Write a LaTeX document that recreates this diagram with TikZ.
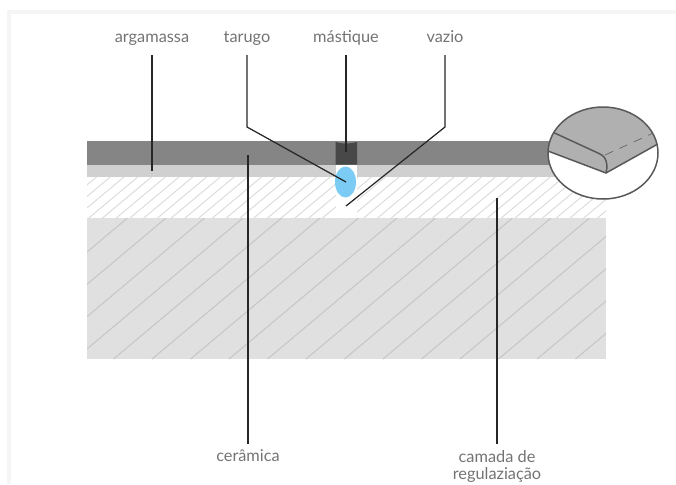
\documentclass[tikz,border=0pt]{standalone}
\usepackage{fontspec}
\setmainfont{Lato}
\usepackage{xcolor}
\usetikzlibrary{positioning}
\definecolor{ceramica}{HTML}{858585}
\definecolor{argamassa}{HTML}{D0D0D0}
\definecolor{base}{HTML}{E0E0E0}
\definecolor{mastique}{HTML}{484848}
\definecolor{tarugo}{HTML}{7CCBF5}
\definecolor{tile}{HTML}{B0B0B0}
\begin{document}
\begin{tikzpicture}[
        x=0.02cm, y=-0.02cm,
        label/.style={font=\fontsize{9.3}{9.7}\selectfont, text=black!55, align=center, inner sep=0pt},
        lead/.style={line width=0.7pt, draw=black!85},
        zoomline/.style={line width=0.85pt, draw=black!65}
    ]
        \useasboundingbox (0,0) rectangle (676,484);
        \fill[black!4] (7,10) rectangle (676,14);
        \fill[black!4] (7,14) rectangle (11,484);

        % Layers
        \fill[base] (87,218) rectangle (606,359);
        \fill[ceramica] (87,141) rectangle (560,165);
        \fill[argamassa] (87,165) rectangle (580,177);

        % Hatching
        \begin{scope}
            \clip (87,177) rectangle (606,218);
            \foreach \i in {0,...,41} {
                \draw[black!14, line width=0.55pt] (96.5+13.75*\i,177) -- ++(-49,41);
            }
        \end{scope}
        \begin{scope}
            \clip (87,218) rectangle (606,359);
            \foreach \i in {0,...,17} {
                \draw[black!22, line width=0.6pt] (127.5+38.5*\i,218) -- ++(-168,141);
            }
        \end{scope}

        % Joint
        \fill[white] (335.5,165) rectangle (357,218);
        \fill[mastique] (335.5,142) .. controls (342,144) and (350,144) .. (357,142) -- (357,164.5) -- (335.5,164.5) -- cycle;
        \fill[tarugo] (345.5,182) ellipse (10.5 and 15.5);

        % Labels
        \node[label, anchor=base] (argamassa) at (152,42.5) {argamassa};
        \node[label, anchor=base] (tarugo) at (247,42.5) {tarugo};
        \node[label, anchor=base] (mastique) at (346,42.5) {mástique};
        \node[label, anchor=base] (vazio) at (445,42.5) {vazio};
        \node[label, anchor=base] (ceramica) at (248,461.5) {cerâmica};
        \node[label, anchor=north] (camada) at (497,450) {camada de\\regulaziação};

        % Leader ends
        \coordinate (argamassa end) at (152,171);
        \coordinate (tarugo end) at (346,182);
        \coordinate (mastique end) at (346,152);
        \coordinate (vazio end) at (346,206);
        \coordinate (ceramica end) at (248,155);
        \coordinate (camada end) at (497,198);

        % Connections
        \draw[lead] (argamassa.base) ++(0,12.5) -- (argamassa end);
        \draw[lead] (tarugo.base) ++(0,12.5) -- ++(0,72) -- (tarugo end);
        \draw[lead] (mastique.base) ++(0,12.5) -- (mastique end);
        \draw[lead] (vazio.base) ++(0,12.5) -- ++(0,72) -- (vazio end);
        \draw[lead] (ceramica.base) ++(0,-17.5) -- (ceramica end);
        \draw[lead] (camada.north) ++(0,-6) -- (camada end);

        % Detail
        \node[circle, minimum size=1pt, inner sep=0pt] (detail) at (603,153) {};
        \fill[white] (detail) ellipse (55 and 46);
        \begin{scope}
            \clip (detail) ellipse (55 and 46);
            \fill[tile] (540,148) -- (606,173) -- (665,140) -- (665,100) -- (540,100) -- cycle;
            \draw[zoomline] (540,148) -- (606,173) -- (665,140);
            \draw[zoomline] (548,130) -- (598,153) .. controls (604,155) and (609,161) .. (606,173);
            \draw[black!60, line width=0.4pt, dash pattern=on 5pt off 4pt] (605,155) -- (660,130);
        \end{scope}
        \draw[zoomline] (detail) ellipse (55 and 46);
    \end{tikzpicture}
\end{document}
